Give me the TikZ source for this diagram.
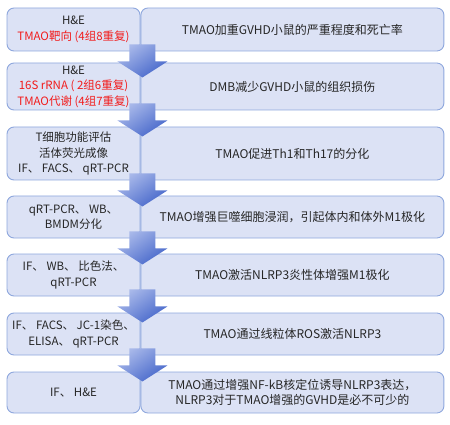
\documentclass[tikz,border=0pt]{standalone}
\usepackage{fontspec}
\setmainfont{Noto Sans CJK SC}
\usetikzlibrary{positioning, calc}
\definecolor{boxfill}{HTML}{DCE2F5}
\definecolor{boxline}{HTML}{8EA7DD}
\definecolor{textgray}{HTML}{262626}
\definecolor{hlred}{HTML}{F21C1C}
\definecolor{arrowlight}{HTML}{A9B9EA}
\definecolor{arrowdark}{HTML}{4566CA}

\begin{document}
\begin{tikzpicture}[
    x=1pt, y=1pt,
    font=\fontsize{12}{15.5}\selectfont, text=textgray,
    method/.style={draw=boxline, fill=boxfill, line width=0.9pt, rounded corners=7pt,
        minimum width=133pt, align=center, inner sep=2pt, font=\fontsize{11.5}{15.5}\selectfont},
    finding/.style={draw=boxline, fill=boxfill, line width=0.9pt, rounded corners=7pt,
        minimum width=303pt, align=center, inner sep=2pt},
    flow/.style={top color=arrowlight, bottom color=arrowdark, shading angle=35, draw=none}
]
\useasboundingbox (0,0) rectangle (450,-425);

% Left column: methods
\node[method, minimum height=43pt] (l1) at (73.5,-29.5) {H\&E\\\textcolor{hlred}{TMAO靶向 (4组8重复)}};
\node[method, minimum height=47pt] (l2) at (73.5,-86.5) {H\&E\\\textcolor{hlred}{16S rRNA ( 2组6重复)}\\\textcolor{hlred}{TMAO代谢 (4组7重复)}};
\node[method, minimum height=53pt] (l3) at (73.5,-153.5) {T细胞功能评估\\活体荧光成像\\IF、 FACS、 qRT-PCR};
\node[method, minimum height=42pt] (l4) at (73.5,-217) {qRT-PCR、 WB、\\BMDM分化};
\node[method, minimum height=42pt] (l5) at (73.5,-275) {IF、 WB、 比色法、\\qRT-PCR};
\node[method, minimum height=42pt] (l6) at (73.5,-334) {IF、 FACS、 JC-1染色、\\ELISA、 qRT-PCR};
\node[method, minimum height=41pt] (l7) at (73.5,-392.5) {IF、 H\&E};

% Right column: findings
\node[finding, minimum height=43pt, right=0pt of l1] (r1) {TMAO加重GVHD小鼠的严重程度和死亡率};
\node[finding, minimum height=47pt, right=0pt of l2] (r2) {DMB减少GVHD小鼠的组织损伤};
\node[finding, minimum height=53pt, right=0pt of l3] (r3) {TMAO促进Th1和Th17的分化};
\node[finding, minimum height=42pt, right=0pt of l4] (r4) {TMAO增强巨噬细胞浸润，引起体内和体外M1极化};
\node[finding, minimum height=42pt, right=0pt of l5] (r5) {TMAO激活NLRP3炎性体增强M1极化};
\node[finding, minimum height=42pt, right=0pt of l6] (r6) {TMAO通过线粒体ROS激活NLRP3};
\node[finding, minimum height=41pt, right=0pt of l7] (r7) {TMAO通过增强NF-kB核定位诱导NLRP3表达，\\NLRP3对于TMAO增强的GVHD是必不可少的};

% Block arrows between rows
\foreach \i in {1,...,6} {
  \coordinate (a\i) at (l\i.south east);
  \shade[flow] ($(a\i)+(-11,7)$) -- ($(a\i)+(15,7)$) -- ($(a\i)+(15,-10)$)
    -- ($(a\i)+(27,-10)$) -- ($(a\i)+(2,-26)$) -- ($(a\i)+(-23,-10)$)
    -- ($(a\i)+(-11,-10)$) -- cycle;
}

\end{tikzpicture}
\end{document}
